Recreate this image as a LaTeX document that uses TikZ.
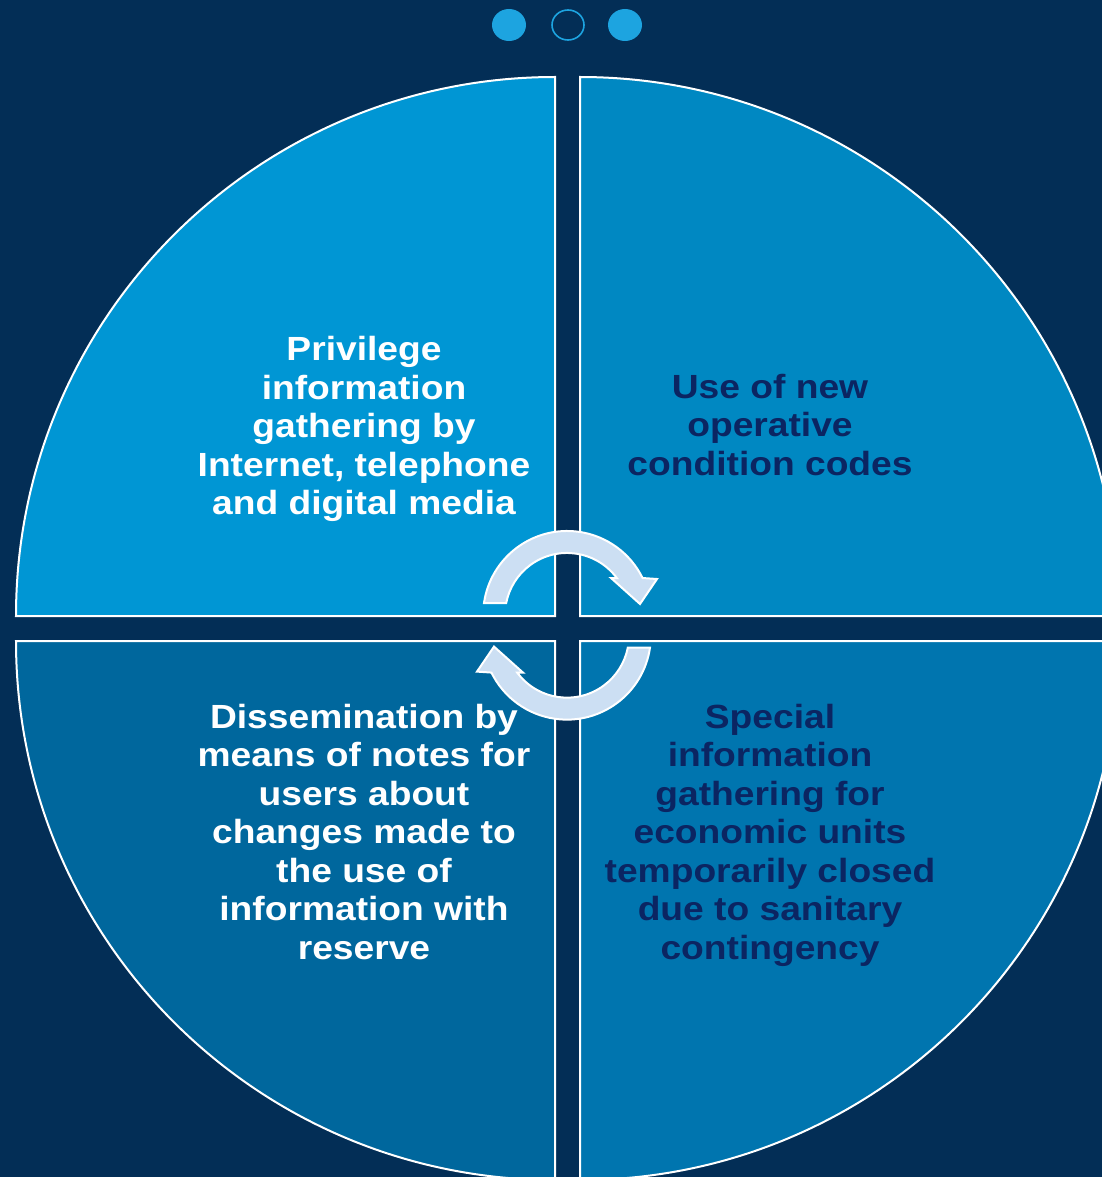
\documentclass[tikz,border=0pt]{standalone}
\usepackage{fontspec}
\setmainfont[FakeStretch=1.11]{Liberation Sans}
\definecolor{bgnavy}{HTML}{032E56}
\definecolor{qtl}{HTML}{0096D4}
\definecolor{qtr}{HTML}{0088C2}
\definecolor{qbl}{HTML}{00679D}
\definecolor{qbr}{HTML}{0075AF}
\definecolor{darktext}{HTML}{0B2562}
\definecolor{dotblue}{HTML}{1DA4E0}
\definecolor{cyclefill}{HTML}{CCDFF3}
\tikzset{
  quadrant/.style={draw=white, line width=2pt, line join=miter},
  label/.style={font=\bfseries\fontsize{33.5}{38.5}\selectfont, align=center, inner sep=0pt},
  cyclearrow/.style={fill=cyclefill, draw=white, line width=2pt, line join=miter},
  pagedot/.style={fill=dotblue, draw=none},
  pagering/.style={draw=dotblue, line width=1.6pt, fill=none}
}
\begin{document}
\begin{tikzpicture}[x=1pt, y=1pt]
  % canvas
  \fill[bgnavy] (0,0) rectangle (1102,-1177);
  \useasboundingbox (0,0) rectangle (1102,-1177);
  \clip (0,0) rectangle (1102,-1177);

  % page indicator dots
  \fill[pagedot] (509,-25) ellipse [x radius=17, y radius=16];
  \draw[pagering] (568,-25) ellipse [x radius=16, y radius=15];
  \fill[pagedot] (625,-25) ellipse [x radius=17, y radius=16];

  % four quadrants of the circle
  \draw[quadrant, fill=qtl] (555,-616) -- (16,-616) arc [start angle=180, end angle=90, radius=539] -- cycle;
  \draw[quadrant, fill=qtr] (580,-616) -- (580,-77) arc [start angle=90, end angle=0, radius=539] -- cycle;
  \draw[quadrant, fill=qbl] (555,-641) -- (16,-641) arc [start angle=180, end angle=270, radius=539] -- cycle;
  \draw[quadrant, fill=qbr] (580,-641) -- (1119,-641) arc [start angle=0, end angle=-90, radius=539] -- cycle;

  % circular arrows in the centre
  \def\cyclepath{(484,-603) arc [start angle=171.8, end angle=26.1, radius=84]
      -- (657,-579) -- (640,-604) -- (611,-578) -- (616.8,-578)
      arc [start angle=36.6, end angle=168.9, radius=62] -- cycle}
  \draw[cyclearrow] \cyclepath;
  \draw[cyclearrow, rotate around={180:(567,-625.3)}] \cyclepath;

  % quadrant texts
  \node[label, text=white] (tl) at (364,-429) {Privilege\\information\\gathering by\\Internet, telephone\\and digital media};
  \node[label, text=darktext] (tr) at (770,-425) {Use of new\\operative\\condition codes};
  \node[label, text=white] (bl) at (364,-832) {Dissemination by\\means of notes for\\users about\\changes made to\\the use of\\information with\\reserve};
  \node[label, text=darktext] (br) at (770,-835) {Special\\information\\gathering for\\economic units\\temporarily closed\\due to sanitary\\contingency};
\end{tikzpicture}
\end{document}
